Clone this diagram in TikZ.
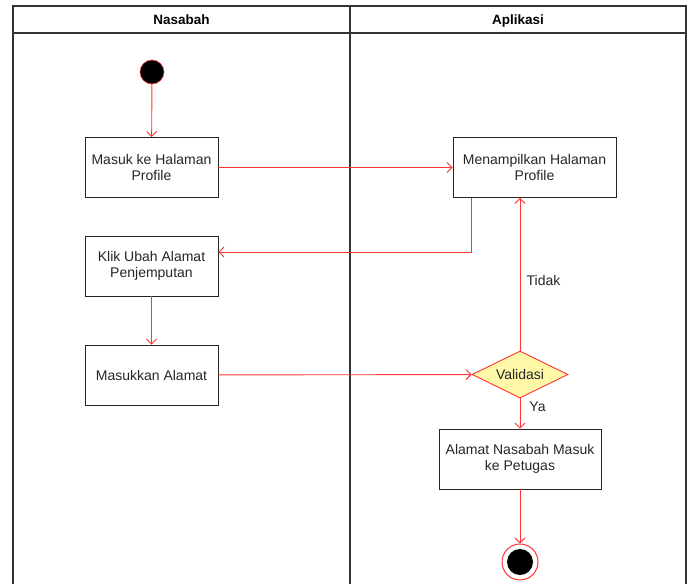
\documentclass[tikz,border=0pt]{standalone}
\usepackage{fontspec}
\setmainfont{Liberation Sans}
\usetikzlibrary{shapes.geometric,arrows.meta,calc}
\definecolor{flow}{HTML}{FF3333}
\definecolor{lane}{HTML}{333333}
\definecolor{decfill}{HTML}{FFF8A8}
\begin{document}
\begin{tikzpicture}[x=1pt,y=-1pt,
  font=\fontsize{14}{15.5}\selectfont,
  lanebox/.style={draw=lane,line width=1.3pt},
  head/.style={font=\fontsize{13.5}{16}\selectfont\bfseries,anchor=base,inner sep=0pt},
  actbox/.style={draw=black!85,line width=0.9pt,fill=white,rectangle,
    minimum height=60pt,align=center,inner sep=2pt,text=black!85},
  decbox/.style={diamond,aspect=2,draw=flow,fill=decfill,line width=0.9pt,
    minimum width=96pt,minimum height=47pt,inner sep=0pt,text=black!85},
  flowarrow/.style={draw=flow,line width=0.9pt,
    -{Straight Barb[length=5pt,width=10pt,line width=0.9pt]}},
  lbl/.style={text=black!85,inner sep=0pt}]
\useasboundingbox (0,0) rectangle (694,584);
% swimlanes
\draw[lanebox] (13,584) -- (13,6) -- (686,6) -- (686,584);
\draw[lanebox] (13,33) -- (686,33);
\draw[lanebox] (350,6) -- (350,584);
\node[head] (hNasabah) at (181.5,24) {Nasabah};
\node[head] (hAplikasi) at (518,24) {Aplikasi};
% start and end
\node[circle,fill=black,draw=flow,line width=0.5pt,minimum size=24pt,inner sep=0pt] (start) at (152,72) {};
\node[circle,fill=white,draw=flow,line width=1pt,minimum size=36pt,inner sep=0pt] (end) at (520,562) {};
\node[circle,fill=black,minimum size=26pt,inner sep=0pt] (endcore) at (520,562) {};
% activities
\node[actbox,minimum width=133pt] (masuk) at (151.5,167.5) {Masuk ke Halaman\\Profile};
\node[actbox,minimum width=163pt] (tampil) at (534.5,167.5) {Menampilkan Halaman\\Profile};
\node[actbox,minimum width=133pt] (klik) at (151.5,266) {Klik Ubah Alamat\\Penjemputan};
\node[actbox,minimum width=133pt] (alamat) at (151.5,375) {Masukkan Alamat};
\node[decbox] (valid) at (520,374.5) {Validasi};
\node[actbox,minimum width=162pt] (petugas) at (520,459) {Alamat Nasabah Masuk\\ke Petugas};
% flow
\draw[flowarrow] (start) -- (masuk);
\draw[flowarrow] (masuk) -- (tampil);
\draw[flowarrow] ($(tampil.south west)+(19,0)$) |- ($(klik.east)+(0,-14)$);
\draw[flowarrow] (klik) -- (alamat);
\draw[flowarrow] (alamat) -- (valid);
\draw[flowarrow] (valid.north) -- (valid.north |- tampil.south);
\draw[flowarrow] (valid) -- (petugas);
\draw[flowarrow] (petugas) -- (end);
\node[lbl] (tidak) at (543.5,280) {Tidak};
\node[lbl] (ya) at (537.5,407) {Ya};
\end{tikzpicture}
\end{document}
